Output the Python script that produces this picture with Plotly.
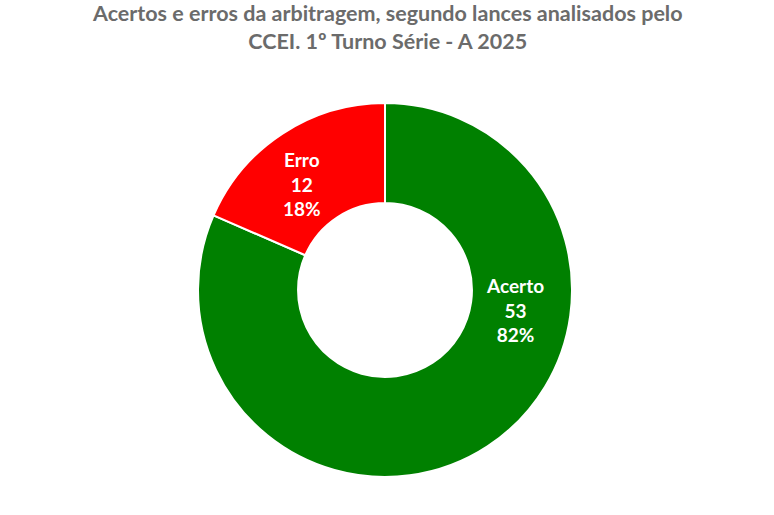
import plotly.graph_objects as go

labels = ["Acerto", "Erro"]
values = [53, 12]
colors = ["#008000", "#FF0000"]
title_lines = ["Acertos e erros da arbitragem, segundo lances analisados pelo",
               "CCEI. 1º Turno Série - A 2025"]

W, H = 774, 515
cx, cy, R = 385, 290, 187
label_pos = [(515, 310), (302, 184)]  # pixel centres of the data labels (as in reference)

total = sum(values)
pcts = [round(100 * v / total) for v in values]

fig = go.Figure(go.Pie(
    labels=labels,
    values=values,
    hole=0.465,
    sort=False,
    direction="clockwise",
    rotation=0,
    marker=dict(colors=colors, line=dict(color="white", width=2)),
    textinfo="none",
    domain=dict(x=[(cx - R) / W, (cx + R) / W], y=[(H - cy - R) / H, (H - cy + R) / H]),
    showlegend=False,
    hoverinfo="label+value+percent",
))

for lab, val, pct, (px, py) in zip(labels, values, pcts, label_pos):
    fig.add_annotation(
        x=px / W, y=1 - py / H, xref="paper", yref="paper",
        text=f"<b>{lab}<br>{val}<br>{pct}%</b>",
        showarrow=False, xanchor="center", yanchor="middle",
        font=dict(family="Lato, sans-serif", size=19, color="white"),
    )

fig.add_annotation(
    x=0.5, y=1, xref="paper", yref="paper", yshift=2,
    text="<b>" + "<br>".join(title_lines) + "</b>",
    showarrow=False, xanchor="center", yanchor="top",
    font=dict(family="Lato, sans-serif", size=21.5, color="#6b6b6b"),
)

fig.update_layout(
    width=W, height=H,
    margin=dict(l=0, r=0, t=0, b=0),
    paper_bgcolor="white",
    plot_bgcolor="white",
)

fig.write_html("out.html")
